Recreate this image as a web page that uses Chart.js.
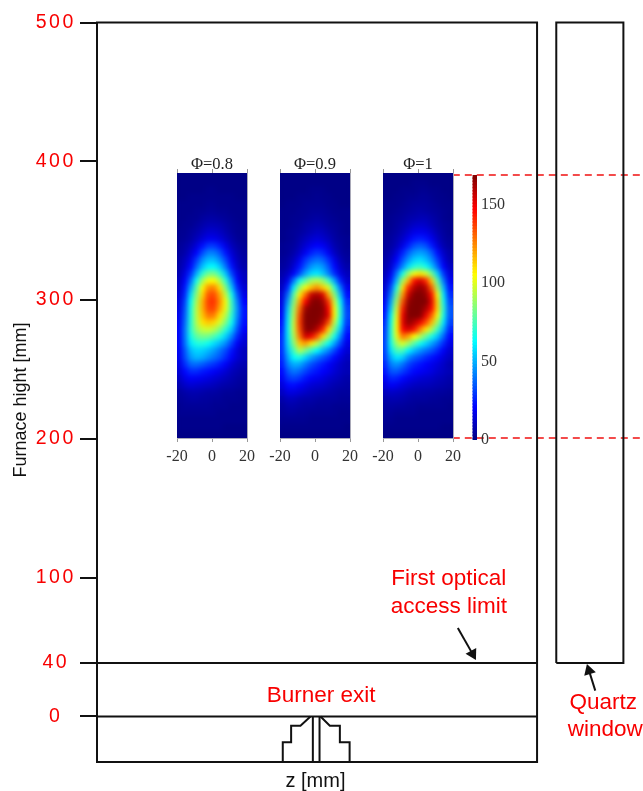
<!DOCTYPE html>
<html>
<head>
<meta charset="utf-8">
<title>Furnace</title>
<script src="https://cdn.jsdelivr.net/npm/chart.js@4"></script>
<style>
html, body { margin: 0; background: #fff; }
canvas { position: absolute; }
</style>
</head>
<body>
<canvas id="main" width="643" height="791" style="left:0;top:0"></canvas>
<canvas id="phi08" width="115" height="320" style="left:155px;top:150px"></canvas>
<canvas id="phi09" width="115" height="320" style="left:258px;top:150px"></canvas>
<canvas id="phi10" width="115" height="320" style="left:361px;top:150px"></canvas>
<canvas id="bar" width="60" height="320" style="left:450px;top:150px"></canvas>
<script>
// axis ticks of the furnace sketch (the 40 mark sits a bit low in the drawing)
const yTickValues = [0, 38.5, 100, 200, 300, 400, 500];
const yTickLabels = ['0', '40', '100', '200', '300', '400', '500'];

// sketch outlines, z and height in mm
const frameZ = [-158, -158, 158, 158, -158];
const frameH = [-32.8, 500, 500, -32.8, -32.8];
const accessZ = [-158, 158];
const accessH = [38.5, 38.5];
const exitZ = [-158, 158];
const exitH = [0, 0];
const quartzZ = [171.8, 171.8, 220, 220, 171.8];
const quartzH = [38.5, 500, 500, 38.5, 38.5];
const burnerLeftZ = [-24.6, -24.6, -18.6, -18.6, -11.9, -4.7];
const burnerLeftH = [-32.8, -18.6, -18.6, -6.6, -6.6, 0];
const burnerRightZ = [2.5, 9.2, 16.4, 16.4, 23.4, 23.4];
const burnerRightH = [0, -6.6, -6.6, -18.6, -18.6, -32.8];
const stemLeftZ = [-3, -3];
const stemRightZ = [1.8, 1.8];
const stemH = [0, -32.8];
const dashZ = [97.5, 234.9];
const dashTopH = [390.1, 390.1];
const dashLowH = [200.6, 200.6];
const arrowAccessZ = [101.1, 111.7];
const arrowAccessH = [63.8, 45.1];
const arrowQuartzZ = [199.8, 195.3];
const arrowQuartzH = [18.6, 33];

// red notes
const noteTexts = ['First optical', 'access limit', 'Burner exit', 'Quartz', 'window'];
const noteZ = [94.6, 94.6, 3, 205.5, 207];
const noteH = [99, 78.9, 14.8, 9.7, -9.7];

// heat map panels
const panelTitles = ['Φ=0.8', 'Φ=0.9', 'Φ=1'];
const panelTicks = [-20, 0, 20];
const cellZ = [-18.33, -15, -11.67, -8.33, -5, -1.67, 1.67, 5, 8.33, 11.67, 15, 18.33];
const cellH = [387.5, 382.5, 377.5, 372.5, 367.5, 362.5, 357.5, 352.5, 347.5, 342.5, 337.5, 332.5, 327.5, 322.5, 317.5, 312.5, 307.5, 302.5, 297.5, 292.5, 287.5, 282.5, 277.5, 272.5, 267.5, 262.5, 257.5, 252.5, 247.5, 242.5, 237.5, 232.5, 227.5, 222.5, 217.5, 212.5, 207.5, 202.5];

const phi08 = [
[1,1,1,1,1,1,1,1,1,1,1,1],
[1,1,1,1,1,1,1,1,1,1,1,1],
[1,1,1,1,1,2,2,1,1,1,1,1],
[1,1,2,2,2,2,2,2,2,2,1,1],
[2,2,2,2,2,3,3,2,2,2,2,2],
[2,2,2,3,3,4,4,3,3,2,2,2],
[2,2,3,3,5,6,6,5,4,3,2,2],
[2,3,3,5,7,9,9,8,6,4,3,2],
[3,3,5,7,10,13,13,11,8,5,3,3],
[3,4,6,10,14,18,18,15,11,7,4,3],
[4,6,9,15,23,30,30,25,17,10,6,4],
[5,7,13,21,33,42,42,35,24,14,8,5],
[6,10,17,30,44,52,52,44,32,18,10,6],
[7,12,22,38,53,62,63,55,40,24,12,7],
[8,16,29,50,70,82,83,72,54,32,17,10],
[10,20,39,66,90,104,106,92,70,44,21,11],
[11,24,49,78,106,124,126,110,84,54,27,14],
[13,27,58,86,112,134,136,120,96,66,35,17],
[15,31,64,92,118,138,140,124,104,72,42,21],
[16,34,67,95,118,136,137,120,102,74,45,24],
[18,36,68,95,115,128,127,110,94,70,44,24],
[19,38,69,93,110,115,112,99,84,65,40,23],
[20,40,70,88,96,98,94,84,70,55,34,20],
[20,40,66,79,83,82,76,68,56,43,27,16],
[20,39,60,68,69,65,58,52,44,32,20,13],
[19,35,52,57,56,52,47,40,33,24,15,10],
[18,33,47,52,50,45,40,35,28,20,14,10],
[16,28,38,39,36,32,29,25,20,14,10,8],
[14,22,28,28,25,23,20,17,14,10,8,6],
[11,17,20,19,18,16,14,12,10,8,6,5],
[8,12,14,13,12,11,10,8,7,6,5,4],
[5,7,8,8,7,6,6,5,4,4,3,3],
[4,5,6,6,5,5,4,4,3,3,3,2],
[3,4,4,4,4,4,3,3,3,2,2,2],
[3,3,3,3,3,3,3,2,2,2,2,2],
[2,2,2,2,2,2,2,2,2,2,2,2],
[2,2,2,2,2,2,2,2,1,1,1,1],
[1,1,1,1,1,1,1,1,1,1,1,1]
];

const phi09 = [
[1,1,1,1,1,1,1,1,1,1,1,1],
[1,1,1,1,1,1,1,1,1,1,1,1],
[1,1,1,1,1,2,2,2,1,1,1,1],
[1,1,1,2,2,2,3,2,2,1,1,1],
[1,2,2,2,3,3,3,3,2,2,1,1],
[2,2,2,3,3,4,4,4,3,2,2,2],
[2,2,3,3,4,5,6,5,4,3,2,2],
[2,2,3,4,6,7,8,7,5,4,3,2],
[2,3,4,5,7,9,11,10,7,5,3,2],
[2,3,4,7,10,13,15,13,10,6,4,3],
[3,4,5,9,14,18,21,19,14,8,5,3],
[3,4,7,12,19,26,30,27,19,11,6,4],
[4,6,10,18,29,36,40,37,28,17,9,5],
[5,7,14,24,36,46,50,46,35,22,12,7],
[7,11,20,33,48,57,60,54,42,28,16,10],
[9,17,40,66,78,90,94,88,72,48,26,13],
[11,27,60,88,104,116,124,114,100,70,40,18],
[14,38,76,108,130,157,162,154,120,86,52,23],
[16,47,84,120,148,166,170,164,140,98,62,28],
[18,54,90,130,164,170,170,168,148,104,68,31],
[20,58,93,136,168,170,170,166,152,106,68,32],
[23,60,96,138,168,170,168,160,135,96,63,30],
[25,61,96,135,166,168,160,142,112,82,55,26],
[27,60,92,128,156,150,134,112,88,66,43,22],
[28,58,85,115,122,110,95,78,64,48,32,17],
[28,54,74,94,84,73,63,52,43,32,22,14],
[27,48,64,68,57,48,41,35,29,22,16,11],
[25,42,50,49,41,34,29,25,20,16,12,9],
[22,35,41,38,32,27,24,21,18,14,11,9],
[19,29,32,29,24,20,18,16,13,11,9,7],
[15,22,23,20,17,14,13,12,10,8,7,6],
[11,16,16,14,12,10,9,8,7,6,5,5],
[7,10,10,8,7,7,6,5,5,5,4,4],
[5,7,7,6,5,5,4,4,4,3,3,3],
[4,5,5,4,4,3,3,3,3,3,2,2],
[3,3,3,3,3,2,2,2,2,2,2,2],
[2,2,2,2,2,2,2,2,2,2,2,1],
[1,1,1,1,1,1,1,1,1,1,1,1]
];

const phi10 = [
[1,1,1,1,1,1,1,1,1,1,1,1],
[1,1,1,1,1,2,2,2,1,1,1,1],
[1,1,1,2,2,2,3,3,2,2,1,1],
[1,1,2,2,3,3,4,4,3,2,2,1],
[2,2,2,3,4,5,5,5,4,3,2,2],
[2,2,3,4,5,6,7,6,5,4,3,2],
[2,3,4,5,7,8,9,9,7,5,3,2],
[3,3,5,7,9,12,13,12,9,6,4,3],
[3,4,6,9,13,17,18,17,13,8,5,3],
[4,5,8,12,18,24,26,24,18,11,6,4],
[4,6,10,17,26,34,37,34,25,15,8,5],
[5,8,15,26,37,45,48,45,36,23,12,7],
[6,11,21,34,46,55,58,53,44,30,16,8],
[7,14,28,43,58,69,72,66,54,38,21,11],
[9,19,40,66,90,104,110,100,82,56,30,15],
[11,25,52,90,118,146,155,142,115,76,41,19],
[13,33,68,110,142,160,166,160,132,90,52,24],
[16,40,80,122,156,168,170,165,146,104,60,28],
[19,48,90,134,165,170,170,170,152,112,66,32],
[22,55,98,143,168,170,170,162,147,112,70,35],
[24,62,103,150,168,170,168,151,132,104,67,35],
[27,66,106,152,166,160,150,136,117,90,60,32],
[29,68,106,147,155,145,126,110,92,73,50,27],
[30,68,102,128,121,106,93,80,67,54,38,22],
[31,66,90,100,90,77,66,57,48,39,28,17],
[31,59,76,76,62,53,46,40,35,28,20,13],
[30,50,60,56,44,37,33,28,24,20,15,11],
[27,42,46,40,32,27,24,21,18,15,12,8],
[24,35,36,31,26,22,20,18,16,13,11,9],
[19,27,26,22,18,16,14,13,12,10,9,7],
[15,20,18,15,13,11,10,10,9,8,7,6],
[10,12,11,10,8,7,7,6,6,5,5,4],
[7,8,8,7,6,5,5,5,4,4,3,3],
[5,6,5,5,4,4,3,3,3,3,3,2],
[4,4,3,3,3,3,2,2,2,2,2,2],
[3,3,2,2,2,2,2,2,2,2,2,2],
[2,2,2,2,2,2,2,2,2,2,1,1],
[1,1,1,1,1,1,1,1,1,1,1,1]
];

// colour bar
const barTicks = [0, 50, 100, 150];
const barLevels = [0,2,4,6,8,10,12,14,16,18,20,22,24,26,28,30,32,34,36,38,40,42,44,46,48,50,52,54,56,58,60,62,64,66,68,70,72,74,76,78,80,82,84,86,88,90,92,94,96,98,100,102,104,106,108,110,112,114,116,118,120,122,124,126,128,130,132,134,136,138,140,142,144,146,148,150,152,154,156,158,160,162,164,166,168];
const barMax = 169;

const SERIF = '"Liberation Serif", serif';
const SANS = '"Liberation Sans", sans-serif';
const INK = '#111';
const RED = '#f80000';

Chart.defaults.animation = false;
Chart.defaults.responsive = false;
Chart.defaults.plugins.legend.display = false;
Chart.defaults.plugins.tooltip.enabled = false;
Chart.defaults.events = [];

function jet(v) {
    const t = Math.min(v / barMax, 1);
    const part = (c) => Math.round(255 * Math.max(0, Math.min(1, 1.5 - Math.abs(4 * t - c))));
    return `rgb(${part(3)},${part(2)},${part(1)})`;
}

function lineSet(zs, hs, extra) {
    return Object.assign({
        showLine: true,
        data: zs.map((z, i) => ({ x: z, y: hs[i] })),
        borderColor: INK,
        borderWidth: 2,
        pointRadius: 0,
        borderJoinStyle: 'miter',
        clip: false
    }, extra);
}

function arrowSet(zs, hs, angle) {
    return lineSet(zs, hs, {
        pointStyle: 'triangle',
        pointRadius: [0, 7],
        rotation: angle,
        pointBackgroundColor: INK,
        pointBorderColor: INK,
        pointBorderWidth: 0
    });
}

// text placed in data coordinates
const notesPlugin = {
    id: 'notes',
    beforeDraw(chart) {
        // spaced out digits on the height axis
        chart.ctx.letterSpacing = '2.5px';
    },
    afterDraw(chart) {
        const { ctx, scales } = chart;
        const px = (z) => scales.x.getPixelForValue(z);
        const py = (h) => scales.y.getPixelForValue(h);
        ctx.save();
        ctx.letterSpacing = '0px';
        ctx.textAlign = 'center';
        ctx.textBaseline = 'middle';
        ctx.fillStyle = RED;
        ctx.font = '22.5px ' + SANS;
        noteTexts.forEach((t, i) => ctx.fillText(t, px(noteZ[i]), py(noteH[i])));
        ctx.fillStyle = INK;
        ctx.font = '20px ' + SANS;
        ctx.fillText('z [mm]', px(-1.1), py(-47));
        ctx.translate(px(-212.6), py(228));
        ctx.rotate(-Math.PI / 2);
        ctx.font = '18px ' + SANS;
        ctx.fillText('Furnace hight [mm]', 0, 0);
        ctx.restore();
    }
};

new Chart(document.getElementById('main'), {
    type: 'scatter',
    data: {
        datasets: [
            lineSet(frameZ, frameH),
            lineSet(accessZ, accessH),
            lineSet(exitZ, exitH),
            lineSet(quartzZ, quartzH),
            lineSet(burnerLeftZ, burnerLeftH),
            lineSet(burnerRightZ, burnerRightH),
            lineSet(stemLeftZ, stemH),
            lineSet(stemRightZ, stemH),
            lineSet(dashZ, dashTopH, { borderColor: '#f01010', borderWidth: 1.5, borderDash: [7, 5] }),
            lineSet(dashZ, dashLowH, { borderColor: '#f01010', borderWidth: 1.5, borderDash: [7, 5] }),
            arrowSet(arrowAccessZ, arrowAccessH, 151.4),
            arrowSet(arrowQuartzZ, arrowQuartzH, -17.3)
        ]
    },
    options: {
        layout: { padding: { top: 22.5, bottom: 29, left: 0, right: 0 } },
        scales: {
            x: { type: 'linear', display: false, min: -158, max: 229.05 },
            y: {
                type: 'linear',
                min: -32.8,
                max: 500,
                afterFit(scale) { scale.width = 97; },
                afterBuildTicks(scale) { scale.ticks = yTickValues.map((value) => ({ value })); },
                border: { color: INK, width: 2 },
                grid: { drawOnChartArea: false, color: INK, lineWidth: 2, tickLength: 17 },
                ticks: {
                    autoSkip: false,
                    crossAlign: 'center',
                    padding: 8,
                    color: RED,
                    font: { family: SANS, size: 19.5 },
                    callback: (value, i) => yTickLabels[i]
                }
            }
        }
    },
    plugins: [notesPlugin]
});

// smooth the cells once they are all drawn
const softCells = {
    id: 'softCells',
    afterDatasetsDraw(chart) {
        const { ctx, canvas, chartArea: a } = chart;
        ctx.save();
        ctx.beginPath();
        ctx.rect(a.left, a.top, a.width, a.height);
        ctx.clip();
        ctx.filter = 'blur(2.5px)';
        ctx.drawImage(canvas, a.left, a.top, a.width, a.height, a.left, a.top, a.width, a.height);
        ctx.restore();
    }
};

function edgeAxis(position, width) {
    return {
        type: 'linear',
        axis: 'y',
        position,
        min: 200,
        max: 390,
        afterFit(scale) { scale.width = width; },
        ticks: { display: false },
        grid: { display: false },
        border: { color: '#a9a9b8', width: 1 }
    };
}

function drawPanel(id, rows, title) {
    const cells = [];
    rows.forEach((row, r) => row.forEach((v, c) => cells.push({ x: cellZ[c], y: cellH[r], v })));
    const frameTicks = (scale) => { scale.ticks = panelTicks.map((value) => ({ value })); };
    new Chart(document.getElementById(id), {
        type: 'scatter',
        data: {
            datasets: [{
                data: cells,
                pointStyle: 'rect',
                pointRadius: 5.5,
                borderWidth: 0,
                pointBorderWidth: 0,
                backgroundColor: (ctx) => jet(ctx.raw ? ctx.raw.v : 0)
            }]
        },
        options: {
            scales: {
                x: {
                    type: 'linear',
                    min: -20,
                    max: 20,
                    afterFit(scale) { scale.height = 32; },
                    afterBuildTicks: frameTicks,
                    border: { color: '#a9a9b8', width: 1 },
                    grid: { drawOnChartArea: false, color: '#999', tickLength: 4 },
                    ticks: {
                        autoSkip: false,
                        maxRotation: 0,
                        padding: 5,
                        color: '#333',
                        font: { family: SERIF, size: 16 },
                        callback: (value) => String(value)
                    }
                },
                top: {
                    type: 'linear',
                    axis: 'x',
                    position: 'top',
                    min: -20,
                    max: 20,
                    afterFit(scale) { scale.height = 23; },
                    afterBuildTicks: frameTicks,
                    border: { color: '#a9a9b8', width: 1 },
                    grid: { drawOnChartArea: false, color: '#999', tickLength: 4 },
                    ticks: { display: false },
                    title: {
                        display: true,
                        text: title,
                        color: '#222',
                        padding: { top: 5, bottom: 0 },
                        font: { family: SERIF, size: 16.5 }
                    }
                },
                y: edgeAxis('left', 22),
                right: edgeAxis('right', 23)
            }
        },
        plugins: [softCells]
    });
}

drawPanel('phi08', phi08, panelTitles[0]);
drawPanel('phi09', phi09, panelTitles[1]);
drawPanel('phi10', phi10, panelTitles[2]);

new Chart(document.getElementById('bar'), {
    type: 'bar',
    data: {
        datasets: [{
            data: barLevels.map((v) => ({ x: 1, y: v })),
            backgroundColor: barLevels.map(jet),
            barThickness: 4,
            borderWidth: 0
        }]
    },
    options: {
        indexAxis: 'y',
        layout: { padding: { top: 25, bottom: 30, left: 22.5, right: 0 } },
        scales: {
            x: { type: 'linear', display: false, min: 0, max: 1 },
            y: {
                type: 'linear',
                position: 'right',
                offset: false,
                min: 0,
                max: barMax,
                afterFit(scale) { scale.width = 33; },
                afterBuildTicks(scale) { scale.ticks = barTicks.map((value) => ({ value })); },
                border: { display: false },
                grid: { display: false, drawTicks: false },
                ticks: {
                    padding: 4,
                    color: '#333',
                    font: { family: SERIF, size: 16 }
                }
            }
        }
    }
});
</script>
</body>
</html>
